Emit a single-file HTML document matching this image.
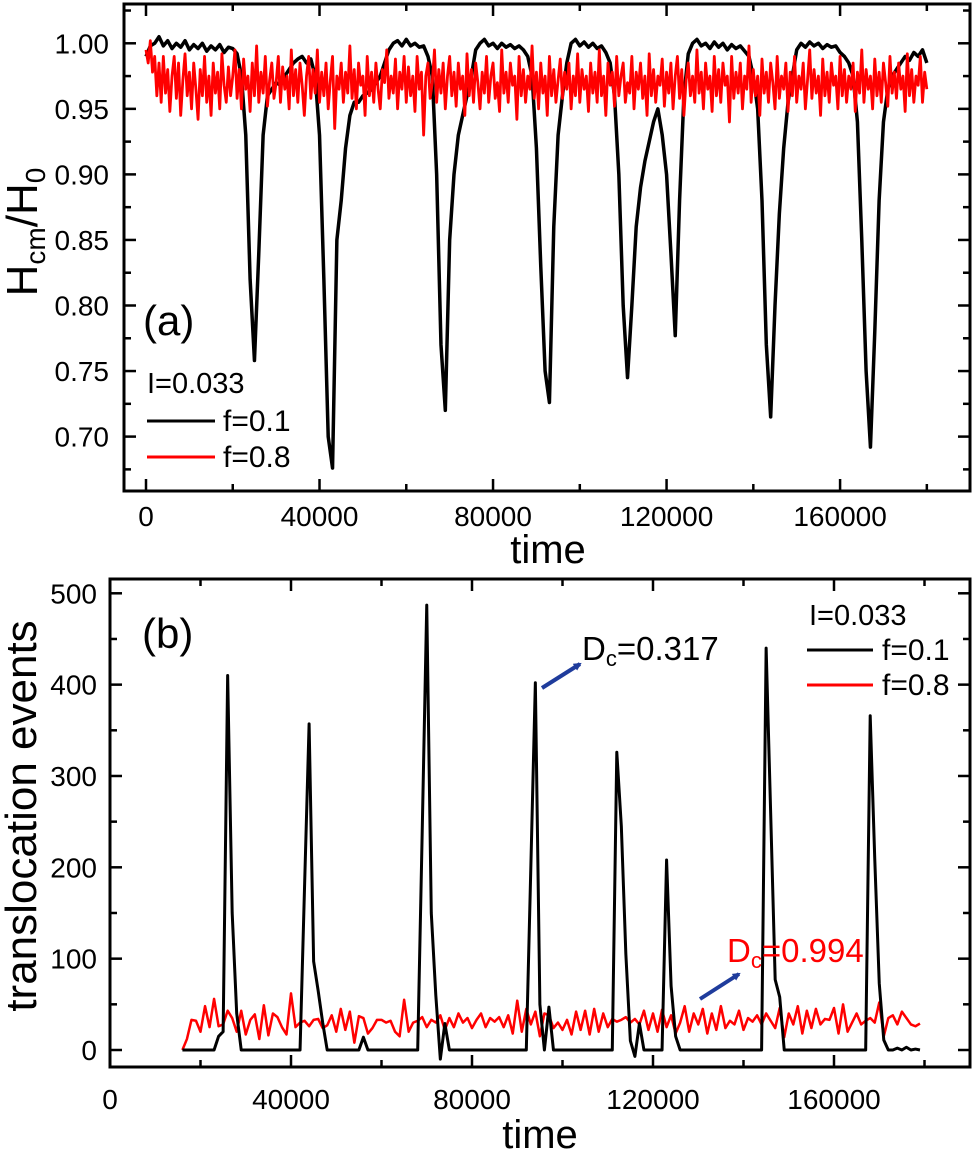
<!DOCTYPE html>
<html><head><meta charset="utf-8"><style>
html,body{margin:0;padding:0;background:#fff;}
svg{display:block;font-family:"Liberation Sans",Arial,sans-serif;}
</style></head><body>
<svg id="fig" width="975" height="1155" viewBox="0 0 975 1155" xmlns="http://www.w3.org/2000/svg">
<defs><marker id="ah" markerWidth="8" markerHeight="8" refX="6" refY="4" orient="auto" markerUnits="userSpaceOnUse"><path d="M0,0 L8,4 L0,8 z" fill="#1f3c9c"/></marker></defs>
<g id="pa"></g>
<g id="pb"></g>
<text x="37" y="232" font-size="44" text-anchor="middle" transform="rotate(-90 37 232)">H<tspan font-size="28" dy="8">cm</tspan><tspan dy="-8">/H</tspan><tspan font-size="28" dy="8">0</tspan></text>
<text x="36" y="816" font-size="44" text-anchor="middle" transform="rotate(-90 36 816)">translocation events</text>
<text x="548" y="563" font-size="40" text-anchor="middle">time</text>
<text x="540" y="1148" font-size="40" text-anchor="middle">time</text>
<text x="143" y="335" font-size="42">(a)</text>
<text x="142" y="648" font-size="42">(b)</text>
<g>
<text x="147" y="393" font-size="29">I=0.033</text>
<line x1="147" y1="421" x2="215" y2="421" stroke="#000" stroke-width="3"/>
<text x="223" y="431" font-size="30">f=0.1</text>
<line x1="147" y1="457" x2="215" y2="457" stroke="#f00" stroke-width="3"/>
<text x="223" y="467" font-size="30">f=0.8</text>
</g>
<g>
<text x="809" y="625" font-size="29">I=0.033</text>
<line x1="807" y1="650" x2="873" y2="650" stroke="#000" stroke-width="3"/>
<text x="882" y="660" font-size="30">f=0.1</text>
<line x1="807" y1="685" x2="873" y2="685" stroke="#f00" stroke-width="3"/>
<text x="882" y="695" font-size="30">f=0.8</text>
</g>
<line x1="542" y1="688" x2="580" y2="664" stroke="#1f3c9c" stroke-width="4" marker-end="url(#ah)"/>
<text x="582" y="660" font-size="33">D<tspan font-size="22" dy="6">c</tspan><tspan dy="-6">=0.317</tspan></text>
<line x1="700" y1="999" x2="739" y2="974" stroke="#1f3c9c" stroke-width="4" marker-end="url(#ah)"/>
<text x="727" y="962" font-size="33" fill="#f00">D<tspan font-size="22" dy="6">c</tspan><tspan dy="-6">=0.994</tspan></text>
</svg>
<script>
// Panel (a) data: H_cm/H_0 vs time
const aBlackStep = 1000;
const aBlack = [0.99,0.998,1.0,1.005,0.998,1.002,0.996,1.0,0.997,1.002,0.995,0.999,0.996,1.0,0.994,0.998,0.995,0.999,0.993,0.997,
0.996,0.992,0.975,0.93,0.82,0.758,0.84,0.93,0.96,0.965,0.97,0.968,0.975,0.98,0.985,0.988,0.99,0.985,0.988,0.975,
0.93,0.82,0.70,0.676,0.85,0.88,0.92,0.945,0.955,0.955,0.96,0.962,0.965,0.97,0.975,0.985,0.995,1.0,1.002,0.998,
1.003,0.998,1.0,0.997,0.998,0.99,0.975,0.90,0.77,0.72,0.85,0.90,0.93,0.945,0.96,0.975,0.995,1.0,1.003,0.998,
1.0,0.996,1.0,0.997,0.999,0.996,0.998,0.995,0.99,0.975,0.92,0.83,0.75,0.726,0.86,0.93,0.96,0.985,1.0,1.003,
0.998,1.001,0.997,1.0,0.996,0.998,0.993,0.985,0.96,0.90,0.80,0.745,0.80,0.86,0.89,0.91,0.925,0.94,0.95,0.93,
0.90,0.84,0.777,0.88,0.96,0.992,1.0,1.003,0.998,1.0,0.996,1.001,0.997,1.0,0.995,0.999,0.996,0.998,0.994,0.99,
0.975,0.95,0.88,0.77,0.715,0.80,0.87,0.92,0.955,0.975,0.995,1.0,0.997,1.001,0.998,1.0,0.996,0.999,0.997,0.998,
0.993,0.99,0.985,0.975,0.94,0.85,0.75,0.692,0.78,0.88,0.94,0.965,0.975,0.98,0.985,0.99,0.987,0.993,0.99,0.995,0.985];
const aRedStep = 500;
const aRed = [0.995,0.985,1.002,0.978,0.99,0.96,0.985,0.955,0.99,0.962,0.98,0.948,0.975,0.99,0.958,0.985,0.945,0.972,0.992,0.96,
0.978,0.95,0.985,0.965,0.942,0.98,0.96,0.99,0.955,0.975,0.945,0.985,0.962,0.978,0.95,0.992,0.968,0.955,0.982,0.96,
0.975,0.995,0.958,0.98,0.95,0.988,0.965,0.975,0.948,0.985,0.96,0.998,0.955,0.978,0.962,0.99,0.952,0.972,0.985,0.958,
0.97,0.99,0.955,0.982,0.965,0.975,0.95,0.995,0.96,0.98,0.955,0.985,0.968,0.945,0.975,0.99,0.958,0.98,0.962,0.995,
0.955,0.978,0.96,0.985,0.95,0.972,0.99,0.935,0.975,0.965,0.985,0.955,0.978,0.962,0.998,0.958,0.98,0.95,0.985,0.968,
0.975,0.945,0.99,0.96,0.978,0.955,0.985,0.965,0.95,0.98,0.97,0.995,0.958,0.975,0.962,0.988,0.95,0.978,0.965,0.99,
0.955,0.982,0.96,0.975,0.948,0.99,0.965,0.978,0.93,0.975,0.985,0.958,0.97,0.995,0.955,0.98,0.962,0.985,0.95,0.975,
0.99,0.96,0.978,0.952,0.985,0.965,0.975,0.945,0.992,0.96,0.98,0.955,0.985,0.97,0.95,0.978,0.962,0.99,0.955,0.975,
0.985,0.958,0.97,0.948,0.995,0.962,0.978,0.955,0.985,0.968,0.975,0.942,0.99,0.96,0.98,0.955,0.975,0.965,0.998,0.958,
0.978,0.95,0.985,0.962,0.975,0.945,0.99,0.96,0.98,0.955,0.972,0.988,0.958,0.978,0.965,0.985,0.95,0.975,0.96,0.992,
0.955,0.98,0.965,0.975,0.948,0.985,0.962,0.978,0.955,0.995,0.96,0.975,0.945,0.985,0.968,0.978,0.952,0.99,0.96,0.975,
0.985,0.955,0.97,0.962,0.99,0.95,0.978,0.965,0.985,0.958,0.975,0.945,0.992,0.96,0.98,0.955,0.975,0.968,0.988,0.952,
0.978,0.962,0.985,0.95,0.975,0.99,0.958,0.98,0.945,0.972,0.985,0.96,0.975,0.955,0.995,0.962,0.978,0.95,0.985,0.965,
0.975,0.948,0.99,0.96,0.98,0.955,0.985,0.968,0.975,0.94,0.99,0.958,0.978,0.962,0.985,0.95,0.975,0.965,0.998,0.955,
0.98,0.96,0.975,0.945,0.988,0.962,0.978,0.955,0.985,0.97,0.95,0.99,0.958,0.975,0.965,0.985,0.948,0.978,0.96,0.99,
0.955,0.975,0.965,0.985,0.95,0.972,0.995,0.958,0.98,0.962,0.975,0.945,0.988,0.96,0.978,0.955,0.985,0.968,0.975,0.95,
0.99,0.96,0.98,0.955,0.975,0.965,0.985,0.948,0.978,0.962,0.995,0.955,0.98,0.965,0.975,0.95,0.988,0.96,0.978,0.955,
0.985,0.97,0.952,0.99,0.962,0.978,0.958,0.985,0.965,0.975,0.948,0.992,0.96,0.98,0.955,0.975,0.968,0.99,0.955,0.978,
0.965];
const aXTicks = [0,40000,80000,120000,160000];
const aXTickLabels = ["0","40000","80000","120000","160000"];
const aYTicks = [0.70,0.75,0.80,0.85,0.90,0.95,1.00];
const aYTickLabels = ["0.70","0.75","0.80","0.85","0.90","0.95","1.00"];

// Panel (b) data: translocation events vs time
const bStart = 16000;
const bStep = 1000;
const bBlack = [0,0,0,0,0,0,0,0,15,20,410,150,40,0,0,0,0,0,0,0,
0,0,0,0,0,0,0,180,357,97,65,30,0,0,0,0,0,0,0,0,
14,0,0,0,0,0,0,0,0,0,0,0,0,240,487,150,60,-10,29,0,
0,0,0,0,0,0,0,0,0,0,0,0,0,0,0,0,0,200,402,50,
0,47,0,0,0,0,0,0,0,0,0,0,0,0,0,0,326,245,105,10,
-7,29,0,0,0,0,0,208,70,15,0,0,0,0,0,0,0,0,0,0,
0,0,0,0,0,0,0,0,0,440,260,77,58,0,0,0,0,0,0,0,
0,0,0,0,0,0,0,0,0,0,0,0,366,210,73,11,0,0,2,0,3,0,1,0];
const bRed = [0,12,33,32,20,48,25,56,26,28,43,35,20,43,17,33,39,12,49,16,
40,36,25,17,62,25,30,32,26,33,34,24,27,38,20,45,22,42,8,37,
35,18,24,33,33,30,32,20,15,55,20,30,32,36,25,33,30,38,22,35,
25,40,30,35,24,33,40,25,35,31,36,25,38,18,54,20,45,28,42,15,
40,38,24,30,22,33,17,42,22,43,17,45,20,40,25,34,31,33,36,30,
34,28,43,22,40,20,44,25,38,18,30,48,20,40,28,45,18,40,22,48,
24,32,28,43,22,35,31,38,28,40,32,24,46,14,40,28,48,18,43,24,
45,28,34,33,46,18,50,20,30,40,28,32,35,30,52,15,35,38,28,42,
35,28,26,29];
const bXTicks = [0,40000,80000,120000,160000];
const bXTickLabels = ["0","40000","80000","120000","160000"];
const bYTicks = [0,100,200,300,400,500];
const bYTickLabels = ["0","100","200","300","400","500"];

const NS = "http://www.w3.org/2000/svg";
function mk(tag, attrs, parent){const e=document.createElementNS(NS,tag);for(const k in attrs)e.setAttribute(k,attrs[k]);parent.appendChild(e);return e;}

// axis functions
const A = {L:124,R:970,T:4,B:491};
const axA = v => 146 + v*0.004338;
const ayA = v => 43.3 + (1.00 - v)*1311;
const B = {L:110,R:970,T:579,B:1067};
const axB = v => 110 + v*0.004525;
const ayB = v => 1050 - v*0.9134;

function frame(g, box, name){
  const r = mk('rect',{x:box.L,y:box.T,width:box.R-box.L,height:box.B-box.T,fill:'none',stroke:'#000','stroke-width':3},g);
  
  
}
function ticksX(g, box, ax, major, minorStep, maxV, labels, labelY, pfx){
  for(let v=0; v<=maxV; v+=minorStep){
    const isMaj = major.indexOf(v)>=0; const len = isMaj?12:7; const x=ax(v);
    const t1 = mk('line',{x1:x,y1:box.B,x2:x,y2:box.B-len,stroke:'#000','stroke-width':2.5},g);
    
    
    const t2 = mk('line',{x1:x,y1:box.T,x2:x,y2:box.T+len,stroke:'#000','stroke-width':2.5},g);
    
    
  }
  major.forEach((v,i)=>{
    const t = mk('text',{x:ax(v),y:labelY,'font-size':28,'text-anchor':'middle'},g);
    t.textContent = labels[i];
    
    
  });
}
function ticksY(g, box, ay, major, labels, half, labelX, pfx){
  for(let i=0;i<major.length;i++){
    [major[i], major[i]-half].forEach((v,j)=>{
      const y=ay(v); if(y>box.B-1||y<box.T+1) return;
      const len = j===0?12:7;
      const t1 = mk('line',{x1:box.L,y1:y,x2:box.L+len,y2:y,stroke:'#000','stroke-width':2.5},g);
      
      
      const t2 = mk('line',{x1:box.R,y1:y,x2:box.R-len,y2:y,stroke:'#000','stroke-width':2.5},g);
      
      
    });
    const t = mk('text',{x:labelX,y:ay(major[i])+10,'font-size':28,'text-anchor':'end'},g);
    t.textContent = labels[i];
    
    
  }
  const top = major[major.length-1]+half; const y=ay(top);
  if(y>box.T+1){
    const t1 = mk('line',{x1:box.L,y1:y,x2:box.L+7,y2:y,stroke:'#000','stroke-width':2.5},g);
    
    
    const t2 = mk('line',{x1:box.R,y1:y,x2:box.R-7,y2:y,stroke:'#000','stroke-width':2.5},g);
    
    
  }
}
function series(g, vals, t0, step, ax, ay, color, w, name){
  const d = vals.map((v,i)=>(i?'L':'M')+ax(t0+i*step).toFixed(2)+','+ay(v).toFixed(2)).join('');
  const p = mk('path',{d:d,fill:'none',stroke:color,'stroke-width':w,'stroke-linejoin':'round'},g);
  
  
}

const ga = document.getElementById('pa');
series(ga, aBlack, 0, aBlackStep, axA, ayA, '#000', 3.5, 'series-f01-a');
series(ga, aRed, 0, aRedStep, axA, ayA, '#f00', 2.8, 'series-f08-a');
frame(ga, A, 'plot-frame-a');
ticksX(ga, A, axA, aXTicks, 20000, 180000, aXTickLabels, 526, 'a');
ticksY(ga, A, ayA, aYTicks, aYTickLabels, 0.025, 109, 'a');

const gb = document.getElementById('pb');
series(gb, bRed, bStart, bStep, axB, ayB, '#f00', 2.5, 'series-f08-b');
series(gb, bBlack, bStart, bStep, axB, ayB, '#000', 3, 'series-f01-b');
frame(gb, B, 'plot-frame-b');
ticksX(gb, B, axB, bXTicks, 20000, 180000, bXTickLabels, 1109, 'b');
ticksY(gb, B, ayB, bYTicks, bYTickLabels, 50, 97, 'b');
</script>
</body></html>
